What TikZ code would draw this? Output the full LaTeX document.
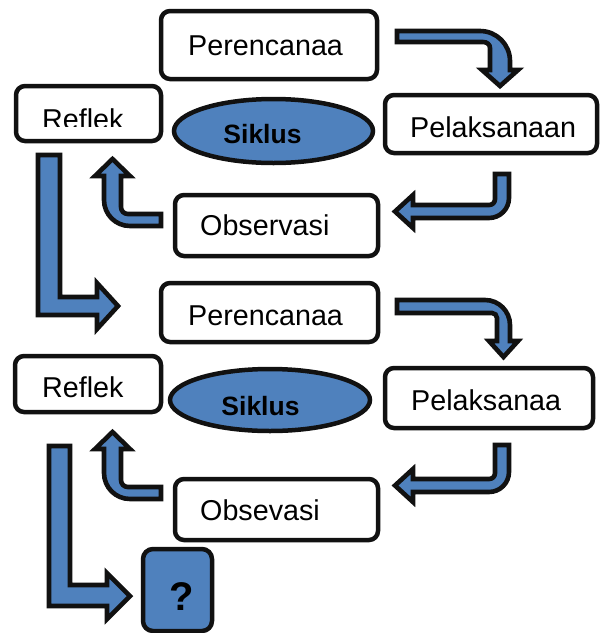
\documentclass[tikz,border=0pt]{standalone}
\usepackage{fontspec}
\setmainfont{Liberation Sans}
\usetikzlibrary{shapes.geometric}
\definecolor{fillblue}{HTML}{4F81BD}
\definecolor{linec}{HTML}{111111}
\tikzset{
  bx/.style 2 args={draw=linec, line width=4.5pt, rounded corners=9pt, fill=white, inner sep=0pt, outer sep=0pt, minimum width=#1, minimum height=#2},
  ell/.style 2 args={ellipse, draw=linec, line width=4.5pt, fill=fillblue, inner sep=0pt, minimum width=#1, minimum height=#2},
  qbx/.style 2 args={draw=linec, line width=4.5pt, rounded corners=10pt, fill=fillblue, inner sep=0pt, minimum width=#1, minimum height=#2},
  lbl/.style={inner sep=0pt, text=black, font=\fontsize{28.7}{34}\selectfont},
  blbl/.style={inner sep=0pt, text=black, font=\fontsize{26.5}{32}\selectfont\bfseries},
  barrow/.style={draw=linec, fill=fillblue, line width=4.6pt}
}
\begin{document}
\begin{tikzpicture}[x=1pt,y=-1pt]
\useasboundingbox (0,0) rectangle (600,633);

% boxes
\node[bx={216pt}{68pt}] (per1) at (269,45) {};
\node[bx={145pt}{55pt}] (ref1) at (88.5,113.5) {};
\node[ell={199pt}{64pt}] (sik1) at (273.5,131) {};
\node[bx={212pt}{58pt}] (pel1) at (491,124) {};
\node[bx={203pt}{61pt}] (obs1) at (276.5,225.5) {};

\node[bx={217pt}{59pt}] (per2) at (269.5,312.5) {};
\node[bx={146pt}{56pt}] (ref2) at (88,384) {};
\node[ell={200pt}{62pt}] (sik2) at (270,400) {};
\node[bx={208pt}{60pt}] (pel2) at (489,398) {};
\node[bx={203pt}{61pt}] (obs2) at (276.5,509.5) {};
\node[qbx={69pt}{82pt}] (qb) at (177.5,590) {};

% labels
\node[lbl, anchor=base west] (tper1) at (188,55) {Perencanaa};
\begin{scope}
  \clip (16,86) rectangle (161,126);
  \node[lbl, anchor=base west] (tref1) at (42,129) {Reflek};
\end{scope}
\node[blbl, anchor=base] (tsik1) at (262.5,143) {Siklus};
\node[lbl, anchor=base west] (tpel1) at (410,137) {Pelaksanaan};
\node[lbl, anchor=base west] (tobs1) at (200,235) {Observasi};

\node[lbl, anchor=base west] (tper2) at (188,325) {Perencanaa};
\node[lbl, anchor=base west] (tref2) at (42,397) {Reflek};
\node[blbl, anchor=base] (tsik2) at (260.5,415) {Siklus};
\node[lbl, anchor=base west] (tpel2) at (411,410) {Pelaksanaa};
\node[lbl, anchor=base west] (tobs2) at (200,520) {Obsevasi};
\node[inner sep=0pt, text=black, font=\fontsize{40}{46}\selectfont\bfseries, anchor=base] (tq) at (181.5,610) {?};

% block arrows
% A1 Perencanaa -> Pelaksanaan
\draw[barrow] (397,31) -- (480,31) .. controls (496.6,31) and (510,44.4) .. (510,61) -- (510,70) -- (518,70) -- (500,86) -- (482,70) -- (490,70) -- (490,48) .. controls (490,44.5) and (487,42) .. (483,42) -- (397,42) -- cycle;
% A2 Pelaksanaan -> Observasi
\draw[barrow] (495,174) -- (509,174) -- (509,198) .. controls (509,209) and (500,218) .. (489,218) -- (413,218) -- (413,228) -- (395,211.5) -- (413,195) -- (413,205) -- (489,205) .. controls (492.5,205) and (495,202.5) .. (495,199) -- cycle;
% A3 Observasi -> Reflek
\draw[barrow] (161,214) -- (128,214) .. controls (124,214) and (121,211) .. (121,207) -- (121,176) -- (130,176) -- (112.5,159) -- (95,176) -- (104,176) -- (104,200) .. controls (104,214.4) and (115.6,226) .. (130,226) -- (161,226) -- cycle;
% A4 Reflek -> Perencanaa 2
\draw[barrow] (38,155) -- (60,155) -- (60,297) -- (97,297) -- (97,283) -- (118,306) -- (97,329) -- (97,315) -- (38,315) -- cycle;
% A5 Perencanaa 2 -> Pelaksanaa
\draw[barrow] (397,300) -- (485,300) .. controls (498.8,300) and (510,311.2) .. (510,325) -- (510,341) -- (518,341) -- (503.5,357) -- (489,341) -- (497,341) -- (497,318) .. controls (497,315.2) and (494.8,313) .. (492,313) -- (397,313) -- cycle;
% A6 Pelaksanaa -> Obsevasi
\draw[barrow] (495,445) -- (509,445) -- (509,472) .. controls (509,483) and (500,492) .. (489,492) -- (413,492) -- (413,502) -- (395,485.5) -- (413,469) -- (413,479) -- (489,479) .. controls (492.5,479) and (495,476.5) .. (495,473) -- cycle;
% A7 Obsevasi -> Reflek 2
\draw[barrow] (161,487) -- (128,487) .. controls (124,487) and (121,484) .. (121,480) -- (121,449) -- (130,449) -- (112.5,432) -- (95,449) -- (104,449) -- (104,473) .. controls (104,487.4) and (115.6,499) .. (130,499) -- (161,499) -- cycle;
% A8 Reflek 2 -> ?
\draw[barrow] (49,446) -- (70,446) -- (70,585) -- (107,585) -- (107,573) -- (130,596) -- (107,619) -- (107,606) -- (49,606) -- cycle;
\end{tikzpicture}
\end{document}
